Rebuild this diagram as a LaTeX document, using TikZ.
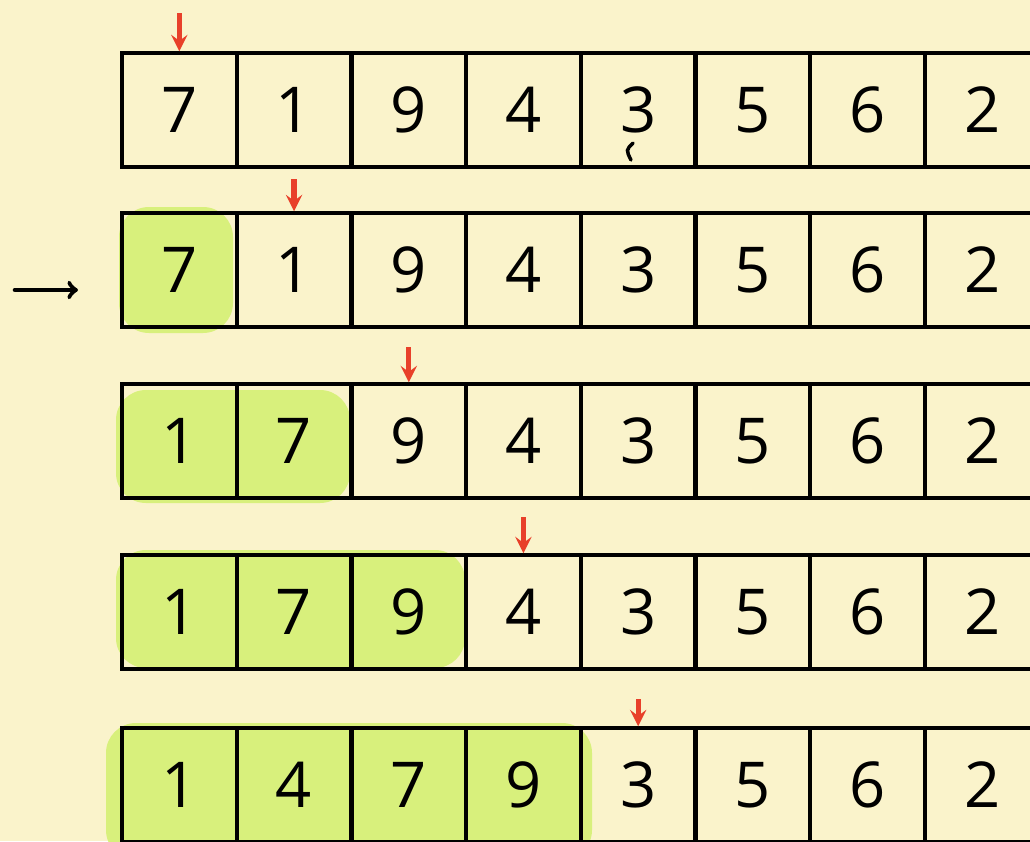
\documentclass[tikz,border=0pt]{standalone}
\usepackage{fontspec}
\setmainfont{Open Sans}
\usepackage{xcolor}
\usepackage{tikz}
\usetikzlibrary{calc, positioning}

\definecolor{paper}{HTML}{FAF3CB}
\definecolor{marker}{HTML}{D8F07C}
\definecolor{pen}{HTML}{E8402A}

\tikzset{
    cell/.style={draw, line width=2.3pt, minimum width=2.3cm, minimum height=2.28cm,
        inner sep=0pt, outer sep=0pt, font=\fontsize{36}{36}\selectfont},
    pointer/.style={->, draw=pen, line width=3pt, shorten >=1pt},
    done/.style={fill=marker, rounded corners=0.6cm}
}

\begin{document}
\begin{tikzpicture}[>=stealth, x=0.02cm, y=-0.02cm]
            \path[use as bounding box] (0,0) rectangle (1030,841);
            \clip (0,0) rectangle (1030,841);
            \fill[paper] (0,0) rectangle (1030,841);
            
            % sorted part
            \fill[done] (119,207) rectangle (233,333);
            \fill[done] (116,390) rectangle (350,503);
            \fill[done] (116,550) rectangle (465,668);
            \fill[done] (106,723) rectangle (592,860);
            
            % rows of cells
            \foreach \r/\y/\vals in {1/110/{7,1,9,4,3,5,6,2},
                                     2/270/{7,1,9,4,3,5,6,2},
                                     3/441/{1,7,9,4,3,5,6,2},
                                     4/612/{1,7,9,4,3,5,6,2},
                                     5/785/{1,4,7,9,3,5,6,2}}{
                \foreach \v [count=\c] in \vals{
                    \node[cell] (r\r c\c) at ({122+114.7*(\c-1)+57.35}, \y) {\v};
                }
            }
            
            % current element
            \coordinate (t1) at ([yshift=0.80cm]r1c1.north);
            \coordinate (t2) at ([yshift=0.68cm]r2c2.north);
            \coordinate (t3) at ([yshift=0.74cm]r3c3.north);
            \coordinate (t4) at ([yshift=0.76cm]r4c4.north);
            \coordinate (t5) at ([yshift=0.58cm]r5c5.north);
            
            \draw[pointer] (t1) -- (r1c1);
            \draw[pointer] (t2) -- (r2c2);
            \draw[pointer] (t3) -- (r3c3);
            \draw[pointer] (t4) -- (r4c4);
            \draw[pointer] (t5) -- (r5c5);
            
            \coordinate (s) at (15,290);
            \coordinate (e) at (78,290);
            \draw[-to, line width=2.6pt, line cap=round] (s) -- (e);
            
            \draw[line width=2pt, line cap=round] (633,143) .. controls (626,150) .. (631,160);
        \end{tikzpicture}
\end{document}
